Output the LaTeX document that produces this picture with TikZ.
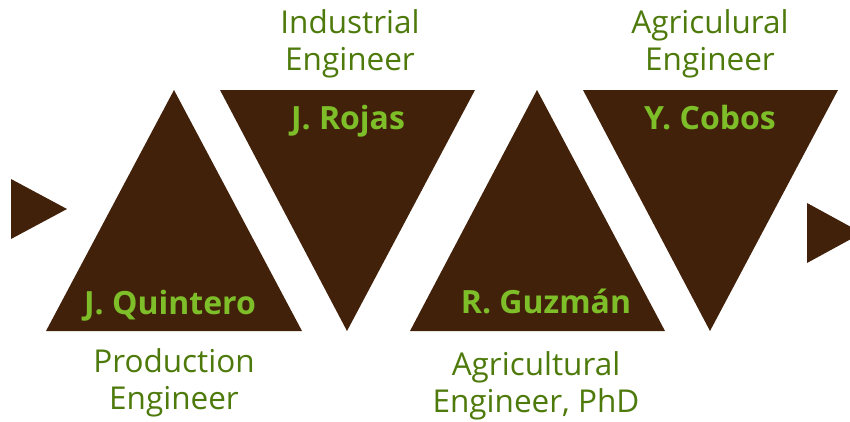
\documentclass[tikz,border=0pt]{standalone}
\usepackage{fontspec}
\setmainfont{Open Sans}
\usepackage{tikz}

\definecolor{brownfill}{HTML}{42210B}
\definecolor{namegreen}{HTML}{7DBE29}
\definecolor{rolegreen}{HTML}{4E7A0C}

\tikzset{
	tri/.style={fill=brownfill, draw=none},
	person/.style={anchor=base, inner sep=0pt, text=namegreen, font=\bfseries\fontsize{32}{38}\selectfont},
	role/.style={anchor=base, inner sep=0pt, align=center, text=rolegreen, font=\fontsize{31.5}{37}\selectfont}
}

\begin{document}
\begin{tikzpicture}[x=1pt, y=-1pt]
					\useasboundingbox (0,0) rectangle (850,421);
					\begin{scope}
					\clip (0,0) rectangle (850,421);
					% small arrows at both ends
					\fill[tri] (11,179) -- (67,209) -- (11,239) -- cycle;
					\fill[tri] (807,203) -- (862,233) -- (807,263) -- cycle;
					\end{scope}
					% the four triangles
					\fill[tri] (174,90) -- (302,331) -- (46,331) -- cycle;
					\fill[tri] (220,90) -- (475,90) -- (347,331) -- cycle;
					\fill[tri] (537,90) -- (665,331) -- (410,331) -- cycle;
					\fill[tri] (583,90) -- (838,90) -- (710,331) -- cycle;
					% names
					\node[person] (quintero) at (170,314) {J. Quintero};
					\node[person] (rojas) at (348,129) {J. Rojas};
					\node[person] (guzman) at (546,313) {R. Guzmán};
					\node[person] (cobos) at (710,129) {Y. Cobos};
					% roles (anchored at the last line)
					\node[role] (production) at (174,409) {Production\\Engineer};
					\node[role] (industrial) at (350,70) {Industrial\\Engineer};
					\node[role] (agriphd) at (536,412) {Agricultural\\Engineer, PhD};
					\node[role] (agriculural) at (710,70) {Agriculural\\Engineer};
\end{tikzpicture}
\end{document}
